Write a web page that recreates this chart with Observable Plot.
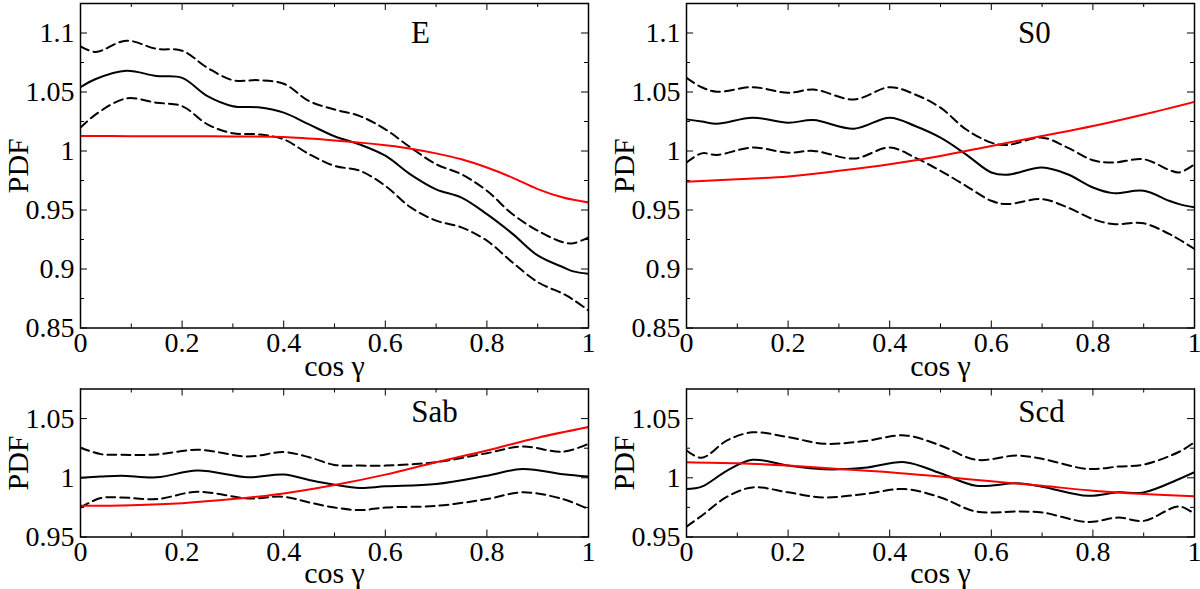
<!DOCTYPE html>
<html>
<head>
<meta charset="utf-8">
<script src="https://cdn.jsdelivr.net/npm/d3@7"></script>
<script src="https://cdn.jsdelivr.net/npm/@observablehq/plot@0.6"></script>
<style>
  html, body { margin: 0; padding: 0; background: #fff; }
  #wrap { position: relative; width: 1200px; height: 589px; overflow: hidden; background: #fff; }
  #wrap svg { position: absolute; }
</style>
</head>
<body>
<div id="wrap"></div>
<script>
// ---------- data ----------
const panelNames = ["E", "S0", "Sab", "Scd"];
const xMajorTicks = [0, 0.2, 0.4, 0.6, 0.8, 1];
const xMinorTicks = [0.1, 0.3, 0.5, 0.7, 0.9];
const yMajorTop = [0.85, 0.9, 0.95, 1, 1.05, 1.1];
const yMinorTop = [0.875, 0.925, 0.975, 1.025, 1.075];
const yMajorBottom = [0.95, 1, 1.05];
const yMinorBottom = [0.975, 1.025];
const xLabel = "cos γ";
const yLabel = "PDF";

// E
const xE = [0, 0.03, 0.09, 0.15, 0.2, 0.25, 0.3, 0.35, 0.4, 0.45, 0.5, 0.55, 0.6, 0.65, 0.7, 0.75, 0.8, 0.85, 0.9, 0.95, 0.97, 1];
const medE = [1.054, 1.061, 1.068, 1.0635, 1.062, 1.0465, 1.038, 1.037, 1.0325, 1.0225, 1.0125, 1.0055, 0.996, 0.980, 0.9675, 0.9605, 0.9465, 0.930, 0.9115, 0.9015, 0.898, 0.896];
const upE = [1.0887, 1.084, 1.0935, 1.0865, 1.085, 1.0705, 1.060, 1.060, 1.057, 1.0423, 1.0352, 1.0296, 1.0184, 1.0029, 0.9888, 0.9803, 0.9663, 0.9466, 0.9325, 0.9226, 0.9218, 0.9268];
const loE = [1.0198, 1.031, 1.0445, 1.0409, 1.038, 1.0226, 1.015, 1.0141, 1.0099, 0.9973, 0.9874, 0.9832, 0.9705, 0.9522, 0.941, 0.9353, 0.924, 0.9057, 0.8889, 0.879, 0.874, 0.8649];
const xModelE = [0, 0.1, 0.2, 0.3, 0.4, 0.5, 0.55, 0.6, 0.65, 0.7, 0.75, 0.8, 0.85, 0.9, 0.95, 1];
const modelE = [1.0127, 1.0126, 1.0125, 1.0123, 1.0119, 1.009, 1.0071, 1.0048, 1.002, 0.998, 0.993, 0.986, 0.9775, 0.9677, 0.9606, 0.9564];

// S0
const xS0 = [0, 0.03, 0.06, 0.13, 0.2, 0.25, 0.33, 0.4, 0.45, 0.5, 0.55, 0.6, 0.63, 0.7, 0.75, 0.8, 0.84, 0.9, 0.95, 0.97, 1];
const medS0 = [1.0268, 1.025, 1.0231, 1.0282, 1.024, 1.0262, 1.0189, 1.0282, 1.0212, 1.0113, 0.9972, 0.9818, 0.9798, 0.986, 0.9803, 0.9691, 0.9643, 0.9663, 0.9578, 0.955, 0.9522];
const upS0 = [1.062, 1.054, 1.0502, 1.0541, 1.0493, 1.0521, 1.0437, 1.0541, 1.0479, 1.0367, 1.0184, 1.0071, 1.005, 1.0113, 1.0029, 0.9922, 0.9902, 0.993, 0.984, 0.9818, 0.9888];
const loS0 = [0.9902, 0.998, 0.9967, 1.0029, 0.9986, 1.0001, 0.9936, 1.0029, 0.9944, 0.9832, 0.9705, 0.9578, 0.955, 0.9592, 0.9522, 0.9423, 0.9381, 0.9387, 0.9297, 0.925, 0.917];
const xModelS0 = [0, 0.1, 0.2, 0.3, 0.4, 0.5, 0.6, 0.7, 0.8, 0.9, 1];
const modelS0 = [0.9739, 0.9761, 0.9784, 0.9832, 0.9888, 0.9958, 1.0043, 1.0127, 1.0212, 1.031, 1.0417];

// Sab
const xSab = [0, 0.04, 0.08, 0.15, 0.23, 0.33, 0.4, 0.45, 0.5, 0.55, 0.6, 0.7, 0.8, 0.87, 0.95, 1];
const medSab = [1.0, 1.001, 1.0018, 1.0004, 1.0061, 1.0004, 1.0027, 0.9982, 0.9942, 0.9914, 0.9928, 0.9948, 1.0018, 1.0075, 1.003, 1.001];
const upSab = [1.0254, 1.020, 1.0194, 1.0197, 1.0237, 1.018, 1.0217, 1.0174, 1.0109, 1.0103, 1.0103, 1.0132, 1.0208, 1.0265, 1.022, 1.0288];
const loSab = [0.9749, 0.9829, 0.9834, 0.982, 0.9882, 0.9826, 0.984, 0.9792, 0.9749, 0.9727, 0.9749, 0.9763, 0.982, 0.9877, 0.982, 0.9735];
const xModelSab = [0, 0.1, 0.2, 0.3, 0.4, 0.5, 0.6, 0.7, 0.8, 0.9, 1];
const modelSab = [0.9763, 0.9769, 0.9786, 0.982, 0.9868, 0.9939, 1.0027, 1.0132, 1.0231, 1.0339, 1.0429];

// Scd
const xScd = [0, 0.03, 0.08, 0.13, 0.2, 0.27, 0.35, 0.43, 0.5, 0.57, 0.65, 0.7, 0.79, 0.85, 0.9, 0.97, 1];
const medScd = [0.9905, 0.9925, 1.0061, 1.0152, 1.0103, 1.0072, 1.0084, 1.0132, 1.0038, 0.9933, 0.9953, 0.9925, 0.9848, 0.9877, 0.9877, 0.999, 1.0047];
const upScd = [1.0231, 1.0169, 1.0316, 1.0384, 1.0344, 1.0288, 1.031, 1.0358, 1.0273, 1.0152, 1.0188, 1.016, 1.0075, 1.0095, 1.0112, 1.022, 1.0302];
const loScd = [0.9588, 0.968, 0.984, 0.9919, 0.9877, 0.9834, 0.9863, 0.9905, 0.9834, 0.9715, 0.9715, 0.9707, 0.9627, 0.9664, 0.9636, 0.9758, 0.9693];
const xModelScd = [0, 0.1, 0.2, 0.3, 0.4, 0.5, 0.6, 0.7, 0.8, 0.9, 1];
const modelScd = [1.0132, 1.0123, 1.0103, 1.0075, 1.0047, 1.001, 0.997, 0.9933, 0.9891, 0.9863, 0.9843];

// ---------- layout ----------
const FONT = "Liberation Serif";
const fmt = d => String(+d.toFixed(3));

function panel(cfg) {
  const pw = cfg.width - cfg.ml - cfg.mr;
  const ph = cfg.height - cfg.mt - cfg.mb;
  const majLen = 7, minLen = 4;
  const tickStyle = {stroke: "black", strokeWidth: 1};
  const txt = {fontFamily: FONT, fill: "black"};
  const marks = [
    // inward ticks, mirrored on all four sides
    Plot.tickX(xMajorTicks, {x: d => d, insetTop: ph - majLen, ...tickStyle}),
    Plot.tickX(xMajorTicks, {x: d => d, insetBottom: ph - majLen, ...tickStyle}),
    Plot.tickX(xMinorTicks, {x: d => d, insetTop: ph - minLen, ...tickStyle}),
    Plot.tickX(xMinorTicks, {x: d => d, insetBottom: ph - minLen, ...tickStyle}),
    Plot.tickY(cfg.yMajor, {y: d => d, insetRight: pw - majLen, ...tickStyle}),
    Plot.tickY(cfg.yMajor, {y: d => d, insetLeft: pw - majLen, ...tickStyle}),
    Plot.tickY(cfg.yMinor, {y: d => d, insetRight: pw - minLen, ...tickStyle}),
    Plot.tickY(cfg.yMinor, {y: d => d, insetLeft: pw - minLen, ...tickStyle}),
    // axes (labels only)
    Plot.axisX(xMajorTicks, {tickSize: 0, tickPadding: 4, fontSize: 28, tickFormat: fmt, label: null, ...txt}),
    Plot.axisY(cfg.yMajor, {tickSize: 0, tickPadding: 6, fontSize: 28, tickFormat: fmt, label: null, ...txt}),
    // series
    Plot.line(cfg.up, {x: cfg.xs, y: cfg.up, curve: "catmull-rom", stroke: "black", strokeWidth: 2, strokeDasharray: "9,5", clip: true}),
    Plot.line(cfg.lo, {x: cfg.xs, y: cfg.lo, curve: "catmull-rom", stroke: "black", strokeWidth: 2, strokeDasharray: "9,5", clip: true}),
    Plot.line(cfg.med, {x: cfg.xs, y: cfg.med, curve: "catmull-rom", stroke: "black", strokeWidth: 2, clip: true}),
    Plot.line(cfg.model, {x: cfg.xm, y: cfg.model, curve: "catmull-rom", stroke: "#ff0000", strokeWidth: 2, clip: true}),
    Plot.frame({stroke: "black", strokeWidth: 1.5}),
    // text
    Plot.text([cfg.name], {x: [cfg.lx], y: [cfg.ly], fontSize: 31, lineAnchor: "middle", ...txt}),
    Plot.text([xLabel], {frameAnchor: "bottom", dy: cfg.xLabelDy, fontSize: 30, textAnchor: "middle", lineAnchor: "middle", ...txt}),
    Plot.text([yLabel], {frameAnchor: "left", dx: -62, rotate: -90, fontSize: 30, textAnchor: "middle", lineAnchor: "middle", ...txt})
  ];
  const svg = Plot.plot({
    width: cfg.width,
    height: cfg.height,
    marginLeft: cfg.ml, marginRight: cfg.mr, marginTop: cfg.mt, marginBottom: cfg.mb,
    x: {domain: [0, 1], axis: null},
    y: {domain: cfg.yDomain, axis: null},
    style: {fontFamily: FONT, background: "transparent", overflow: "visible", color: "black"},
    marks
  });
  svg.style.left = cfg.left + "px";
  svg.style.top = cfg.top + "px";
  document.getElementById("wrap").appendChild(svg);
}

const topRow = {top: 0, height: 390, mt: 3, mb: 62.5, yDomain: [0.85, 1.125], yMajor: yMajorTop, yMinor: yMinorTop, ly: 1.0996, xLabelDy: 38};
const botRow = {top: 370, height: 219, mt: 18.5, mb: 52.5, yDomain: [0.95, 1.075], yMajor: yMajorBottom, yMinor: yMinorBottom, ly: 1.0556, xLabelDy: 36};
const leftCol = {left: 0, width: 600, ml: 80, mr: 12};
const rightCol = {left: 600, width: 600, ml: 86, mr: 6};

panel({...topRow, ...leftCol, name: panelNames[0], lx: 0.669, xs: xE, med: medE, up: upE, lo: loE, xm: xModelE, model: modelE});
panel({...topRow, ...rightCol, name: panelNames[1], lx: 0.685, xs: xS0, med: medS0, up: upS0, lo: loS0, xm: xModelS0, model: modelS0});
panel({...botRow, ...leftCol, name: panelNames[2], lx: 0.697, xs: xSab, med: medSab, up: upSab, lo: loSab, xm: xModelSab, model: modelSab});
panel({...botRow, ...rightCol, name: panelNames[3], lx: 0.699, xs: xScd, med: medScd, up: upScd, lo: loScd, xm: xModelScd, model: modelScd});
</script>
</body>
</html>
